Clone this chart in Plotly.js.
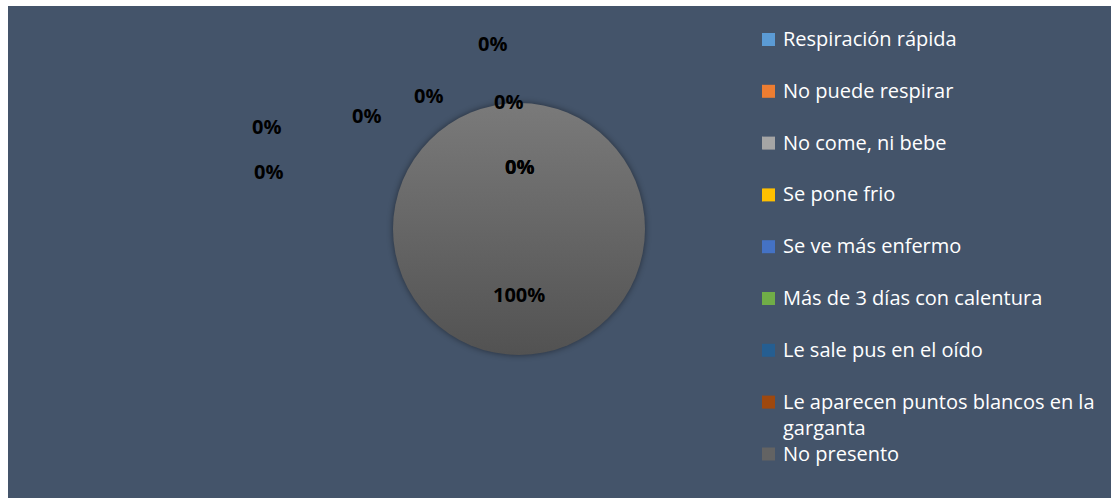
<!DOCTYPE html>
<html><head><meta charset="utf-8">
<script src="https://cdn.plot.ly/plotly-3.0.1.min.js"></script>
<style>
html,body{margin:0;padding:0;background:#ffffff;}
#chart{position:absolute;left:8px;top:6px;width:1103px;height:492px;}
</style>
</head><body><div id="chart"></div>
<script>
// ---- data ----
const categories = [
  "Respiración rápida",
  "No puede respirar",
  "No come, ni bebe",
  "Se pone frio",
  "Se ve más enfermo",
  "Más de 3 días con calentura",
  "Le sale pus en el oído",
  "Le aparecen puntos blancos en la garganta",
  "No presento"
];
const legendLabels = [
  "Respiración rápida",
  "No puede respirar",
  "No come, ni bebe",
  "Se pone frio",
  "Se ve más enfermo",
  "Más de 3 días con calentura",
  "Le sale pus en el oído",
  "Le aparecen puntos blancos en la<br>garganta",
  "No presento"
];
const values = [0, 0, 0, 0, 0, 0, 0, 0, 100];
const colors = ["#5B9BD5","#ED7D31","#A5A5A5","#FFC000","#4472C4","#70AD47","#255E91","#9E480E","#636363"];

// ---- layout helpers (pixel positions inside the 1103x492 plot div) ----
const W = 1103, H = 492;
const px = x => x / W;
const py = y => 1 - y / H;
// label positions for each slice's percentage text (Excel-style placement)
const labelPos = [[484,37],[420,89],[500,95],[358,109],[258,120],[260,165],[511,161],[511,161],[511,288]];

const total = values.reduce((a,b)=>a+b,0);
const pct = values.map(v => Math.round(v / total * 100) + "%");

const cx = 511, cy = 223, r = 126;

const trace = {
  type: "pie",
  labels: categories,
  values: values,
  sort: false,
  direction: "clockwise",
  rotation: 0,
  marker: {colors: colors, line: {width: 0}},
  textinfo: "none",
  hoverinfo: "label+percent",
  showlegend: false,
  domain: {x: [px(cx - r), px(cx + r)], y: [py(cy + r), py(cy - r)]}
};

const annotations = [];
const shapes = [];
values.forEach((v, i) => {
  annotations.push({
    xref: "paper", yref: "paper",
    x: px(labelPos[i][0]), y: py(labelPos[i][1]),
    text: "<b>" + pct[i] + "</b>", showarrow: false,
    xanchor: "center", yanchor: "middle",
    font: {family: "'Open Sans', Lato, sans-serif", size: 20, color: "#000000"}
  });
});

// legend
const rowY = [33.5, 85.3, 137.1, 188.9, 240.7, 292.5, 344.3, 396.1, 448];
categories.forEach((c, i) => {
  const yc = rowY[i];
  shapes.push({
    type: "rect", xref: "paper", yref: "paper",
    x0: px(754), x1: px(767), y0: py(yc + 6.5), y1: py(yc - 6.5),
    fillcolor: colors[i], line: {width: 0}
  });
  const lines = legendLabels[i].split("<br>");
  lines.forEach((t, k) => {
    annotations.push({
      xref: "paper", yref: "paper",
      x: px(773), y: py(yc - 1 + k * 26),
      text: t, showarrow: false, xanchor: "left", yanchor: "middle",
      font: {family: "'Open Sans', Lato, sans-serif", size: 20, color: "#FFFFFF"}
    });
  });
});

const layout = {
  width: W, height: H,
  margin: {l: 0, r: 0, t: 0, b: 0},
  paper_bgcolor: "#44546A",
  plot_bgcolor: "#44546A",
  showlegend: false,
  annotations: annotations,
  shapes: shapes
};

Plotly.newPlot("chart", [trace], layout, {displayModeBar: false, staticPlot: true}).then(() => {
  const svg = document.querySelector("#chart svg.main-svg");
  const ns = "http://www.w3.org/2000/svg";
  let defs = svg.querySelector("defs");
  if (!defs) { defs = document.createElementNS(ns, "defs"); svg.insertBefore(defs, svg.firstChild); }
  const g = document.createElementNS(ns, "linearGradient");
  g.setAttribute("id", "pieGrad");
  g.setAttribute("x1", "0"); g.setAttribute("y1", "0"); g.setAttribute("x2", "0"); g.setAttribute("y2", "1");
  [["0", "#7A7A7A"], ["1", "#525252"]].forEach(([o, c]) => {
    const s = document.createElementNS(ns, "stop");
    s.setAttribute("offset", o); s.setAttribute("stop-color", c);
    g.appendChild(s);
  });
  defs.appendChild(g);
  document.querySelectorAll("#chart .slice path.surface").forEach(p => {
    if (p.getBBox().width > 10) {
      p.style.fill = "url(#pieGrad)";
      p.style.filter = "drop-shadow(0px 0px 3px rgba(0,0,0,0.45))";
    }
  });
});
</script>
</body></html>
